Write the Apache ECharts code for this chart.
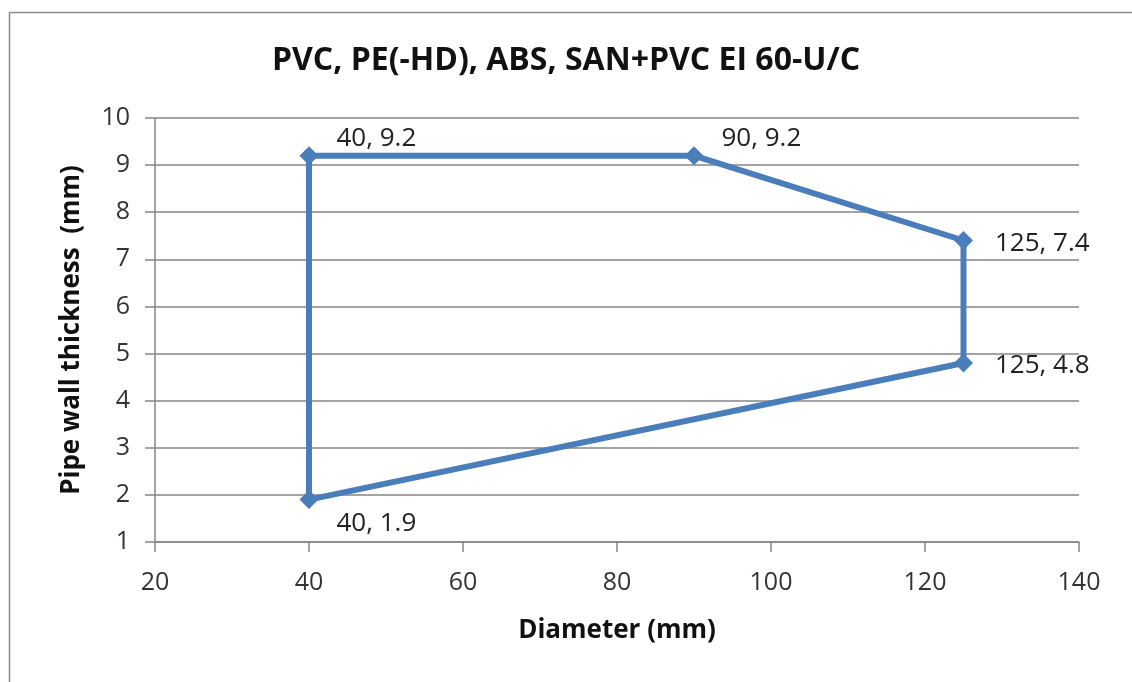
<!DOCTYPE html>
<html><head><meta charset="utf-8">
<script src="https://cdn.jsdelivr.net/npm/echarts@6/dist/echarts.min.js"></script>
<style>html,body{margin:0;padding:0;background:#fff}#c{width:1132px;height:682px}</style>
</head><body><div id="c"></div>
<script>
var diameters = [40, 40, 90, 125, 125, 40];
var thickness = [1.9, 9.2, 9.2, 7.4, 4.8, 1.9];
var labelPositions = ['below', 'above', 'above', 'beside', 'beside', null];
var xTicks = {min: 20, max: 140, interval: 20};
var yTicks = {min: 1, max: 10, interval: 1};

var posMap = {
  below: {offset: [0, 24], distance: 18},
  above: {offset: [0, -17], distance: 18},
  beside: {offset: [0, 3], distance: 22}
};
var data = diameters.map(function (d, i) {
  var item = {value: [d, thickness[i]]};
  var p = labelPositions[i];
  if (p) {
    item.label = {show: true, position: 'right', offset: posMap[p].offset, distance: posMap[p].distance,
      formatter: function (params) { return params.value[0] + ', ' + params.value[1]; }};
  } else {
    item.label = {show: false};
    item.symbolSize = 0;
  }
  return item;
});

var chart = echarts.init(document.getElementById('c'));
chart.setOption({
  animation: false,
  title: {
    text: 'PVC, PE(-HD), ABS, SAN+PVC EI 60-U/C',
    left: 'center', top: 40,
    textStyle: {fontFamily: 'Open Sans', fontWeight: 'bold', fontSize: 32, color: '#111'}
  },
  graphic: [{type: 'rect', shape: {x: 9.5, y: 12.5, width: 1140, height: 700},
    style: {fill: 'none', stroke: '#8c8c8c', lineWidth: 1.5}, z: -1}],
  grid: {left: 155, right: 53, top: 118, bottom: 140},
  xAxis: {
    type: 'value', min: xTicks.min, max: xTicks.max, interval: xTicks.interval,
    name: 'Diameter (mm)', nameLocation: 'middle', nameGap: 76,
    nameTextStyle: {fontFamily: 'Open Sans', fontWeight: 'bold', fontSize: 26, color: '#111'},
    axisLine: {show: true, lineStyle: {color: '#868686', width: 1.5}},
    axisTick: {show: true, length: 10, lineStyle: {color: '#868686', width: 1.5}},
    axisLabel: {fontFamily: 'Open Sans', fontSize: 25, color: '#333', margin: 28},
    splitLine: {show: false}
  },
  yAxis: {
    type: 'value', min: yTicks.min, max: yTicks.max, interval: yTicks.interval,
    name: 'Pipe wall thickness  (mm)', nameLocation: 'middle', nameGap: 70,
    nameTextStyle: {fontFamily: 'Open Sans', fontWeight: 'bold', fontSize: 26, color: '#111'},
    axisLine: {show: true, lineStyle: {color: '#868686', width: 1.5}},
    axisTick: {show: true, length: 10, lineStyle: {color: '#868686', width: 1.5}},
    axisLabel: {fontFamily: 'Open Sans', fontSize: 25, color: '#333', margin: 25},
    splitLine: {show: true, lineStyle: {color: '#868686', width: 1.5}}
  },
  series: [{
    type: 'line',
    data: data,
    symbol: 'diamond', symbolSize: 19,
    lineStyle: {color: '#4a7ebb', width: 6},
    itemStyle: {color: '#4a7ebb'},
    label: {fontFamily: 'Open Sans', fontSize: 26, color: '#222'}
  }]
});
</script></body></html>
